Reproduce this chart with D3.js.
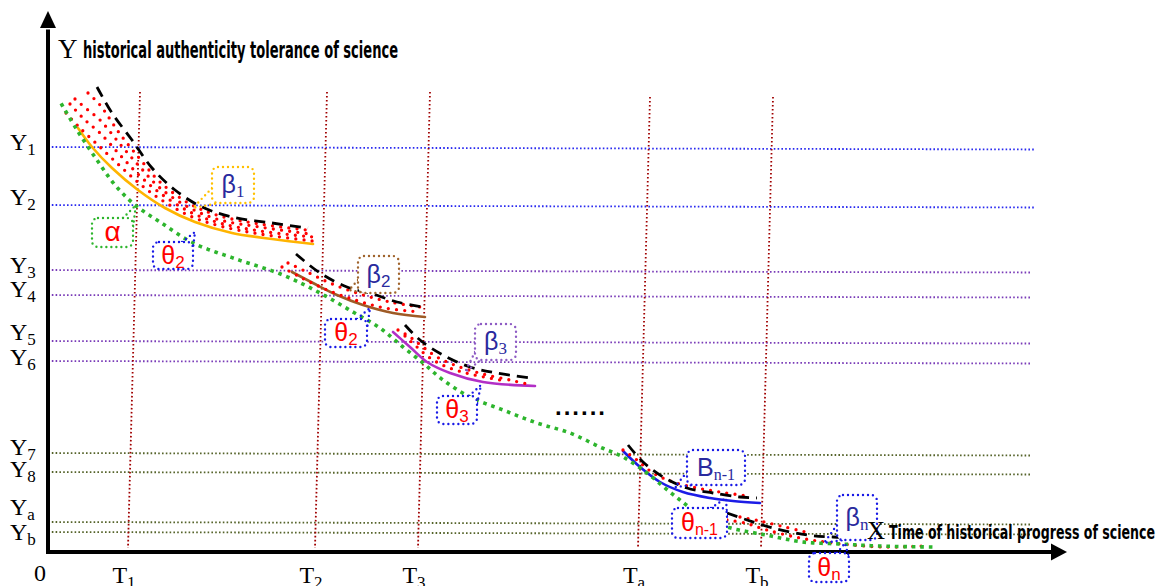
<!DOCTYPE html>
<html><head><meta charset="utf-8">
<script src="https://cdn.jsdelivr.net/npm/d3@7"></script>
<style>body{margin:0;background:#fff}svg{display:block}</style>
</head><body>
<svg id="c" width="1164" height="586"></svg>
<script>
// ---------------- data (abstract units: time 0..100, tolerance 0..100) ----------------
const yTickNames  = ["1","2","3","4","5","6","7","8","a","b"];
const yTickValues = [81, 69.4, 56.4, 51.4, 42.2, 38.2, 19.8, 16, 6, 4];
const yLabelAt    = [80.4, 69.4, 55.8, 51, 42.4, 37.4, 19.4, 15, 7.4, 2.4];
const tTickNames  = ["1","2","3","a","b"];
const tTickValues = [8, 26.7, 37, 59, 71.3];
const tTopValues  = [92, 92, 92, 91, 91];

// green dotted general trend (alpha)
const alphaCurve = [[1.4,89.4],[2.9,84.4],[4.9,78.4],[6.7,73.4],[8.7,69.4],[11.2,66],[14.5,61.8],[18.5,58.8],[23.5,55.4],[27.2,51.8],[30.5,48],[33.2,44.8],[35.5,41],[37.5,37.8],[39.5,34.4],[42.2,31],[45.5,28.4],[48.9,25.8],[52.2,23.8],[55.2,21],[57.5,19],[59.9,15.8],[61.7,12.8],[63.2,10.4],[65.5,7],[67.9,5],[71.8,3.4],[75.5,2],[79.3,1.6],[83,1.2],[88.6,1]];

// segment 1 (beta1)
const beta1Solid = [[3,84.8],[4.4,81],[6.4,76.8],[9,72.4],[11.7,68.8],[14.7,66],[18.4,63.8],[22.4,62.6],[26.5,61.6]];
const beta1Upper = [[4.9,93],[6.4,87.8],[8.4,82.4],[10.4,76.8],[12.7,72.4],[15.4,69],[18.4,67],[22.4,65.8],[26,64.8]];
const beta1RedA = [[4,91.8],[5.2,89.4],[7.2,83.6],[9.2,78.6],[11.2,74],[14.2,69.6],[17.2,67.2],[21.2,65.6],[25.9,64.4]];
const beta1RedB = [[2.7,90.6],[4,88.4],[5.2,86.4],[7.2,81.6],[9.2,77],[11.2,72.8],[14.2,68.8],[17.2,66.4],[21.2,65],[26.2,63.6]];
const beta1RedC = [[2.2,89.6],[3.7,86.4],[5.2,83.8],[7.2,79.4],[9.2,75.2],[11.2,71.8],[14.2,68],[17.2,65.8],[21.2,64.2],[26.5,63]];
const beta1RedD = [[1.8,87.8],[3.2,84.8],[5.2,81],[7.2,77.2],[9.2,73.6],[11.2,70.6],[14.2,67.2],[17.2,65.2],[21.2,63.6],[26.5,62.2]];

// segment 2 (beta2)
const beta2Solid = [[24.4,56],[26.5,53.8],[28.9,51.4],[31.5,49.4],[34.5,47.8],[37.7,47]];
const beta2Upper = [[24.8,59.6],[27.2,55.8],[29.9,53],[32.2,51.8],[34.9,50],[37.5,49]];
const beta2RedA = [[24,57.8],[25.7,56.2],[28.2,53.8],[31.2,51.6],[34.2,50],[37.2,49]];
const beta2RedB = [[23.4,57],[25.2,55],[27.7,52.6],[30.7,50.4],[33.7,48.8],[37.3,48]];

// segment 3 (beta3)
const beta3Solid = [[34.5,44],[36.2,41],[37.9,38],[40.2,35.8],[43.5,34],[48.7,33.2]];
const beta3Upper = [[35.7,45.4],[37.2,42.4],[39.5,39.4],[42.2,37],[44.9,35.8],[48.2,34.8]];
const beta3RedA = [[35,44.4],[36.2,43],[37.5,41],[38.9,39],[40.9,37.2],[43.5,35.6],[46.2,34.4],[47.9,33.6]];
const beta3RedB = [[35.7,43.2],[36.9,41],[38.2,38.8],[39.9,37],[42.2,35.6],[45.2,34.4]];

// segment n-1
const betaN1Solid = [[57.5,20.2],[59.2,17],[61.2,14],[63.5,12],[66.2,10.8],[68.5,10.2],[71.2,9.8]];
const betaN1Upper = [[58,21.4],[59.5,18],[61.5,15],[63.9,12.8],[66.5,11.8],[69.2,11],[70.9,10.8]];
const betaN1Red   = [[57.5,20.4],[58.9,18.4],[60.5,15.8],[62.5,14],[64.9,12.8],[67.2,12],[69.9,11.2]];

// segment n
const betaNUpper = [[67.9,7.8],[69.9,6.4],[72.5,4.8],[75.9,3.4],[78.5,3],[81.5,2.8]];
const betaNRedA  = [[67.9,6.4],[69.7,5.8],[71.9,4.4],[75.2,2.8],[78.5,1.8],[83.5,1],[87.5,1.2]];
const betaNRedB  = [[69.2,7],[71.2,6.2],[73.7,5],[76.2,3.8]];

// callouts: text, subscript, box [x0,yTop,x1,yBottom], pointer base points and tip
const callouts = [
  {t:"β", s:"1",   box:[16.4,77,20.6,69.8],  b1:[16.4,72.8], b2:[17.1,69.8], tip:[14.5,68.8], c:"#ffc000", tc:"#2a2a9e", sf:"serif"},
  {t:"α", s:"",    box:[4.4,66.8,8.5,61],    b1:[7.5,66.8],  b2:[8.5,65],    tip:[8.8,69.4],  c:"#2db52d", tc:"#ff0000", sf:"sans"},
  {t:"θ", s:"2",   box:[10.5,62,14.5,56.6],  b1:[13.4,62],   b2:[14.5,60.8], tip:[14.7,64],   c:"#1a1ae6", tc:"#ff0000", sf:"sans"},
  {t:"β", s:"2",   box:[31,59.2,35.1,51.8],  b1:[31,54.4],   b2:[31.7,51.8], tip:[30.1,52.4], c:"#a0642d", tc:"#2a2a9e", sf:"sans"},
  {t:"θ", s:"2",   box:[27.7,46.6,31.9,41],  b1:[30.9,46.6], b2:[31.9,44.6], tip:[32.2,48.8], c:"#1a1ae6", tc:"#ff0000", sf:"sans"},
  {t:"β", s:"3",   box:[42.7,45.6,46.8,38.4],b1:[42.7,40],   b2:[43.3,38.4], tip:[41.7,36],   c:"#8e5cc4", tc:"#2a2a9e", sf:"serif"},
  {t:"θ", s:"3",   box:[38.9,31.2,42.9,25.6],b1:[42.1,31.2], b2:[42.9,29.6], tip:[43.3,33.4], c:"#1a1ae6", tc:"#ff0000", sf:"sans"},
  {t:"B", s:"n-1", box:[63.9,20.4,69.7,13.4],b1:[63.9,16],   b2:[64.6,13.4], tip:[62.7,13],   c:"#1a1ae6", tc:"#2a2a9e", sf:"serif"},
  {t:"θ", s:"n-1", box:[62.4,8.8,67.9,2.8],  b1:[66.3,8.8],  b2:[67.9,7.2],  tip:[67.8,10.8], c:"#1a1ae6", tc:"#ff0000", sf:"sans"},
  {t:"β", s:"n",   box:[78.9,11.4,82.9,2.4], b1:[78.9,5.4],  b2:[79.5,2.4],  tip:[77.6,1.8],  c:"#1a1ae6", tc:"#2a2a9e", sf:"serif"},
  {t:"θ", s:"n",   box:[76.1,-0.2,80.1,-6],  b1:[78.9,-0.2], b2:[80.1,-1.2], tip:[79.7,1.8],  c:"#1a1ae6", tc:"#ff0000", sf:"sans"}
];

const yTitle = "historical authenticity tolerance of science";
const xTitle = "Time of historical progress of science";

// ---------------- drawing ----------------
const svg = d3.select("#c");
const x = d3.scaleLinear().domain([0,100]).range([48,1048]);
const y = d3.scaleLinear().domain([0,100]).range([552,52]);
const SERIF = "'Liberation Serif','Times New Roman',serif";
const SANS = "'Liberation Sans',Arial,sans-serif";
const NARROW = "'Liberation Sans Narrow','DejaVu Sans Condensed','Roboto Condensed',sans-serif";

svg.append("rect").attr("width",1164).attr("height",586).attr("fill","#fff");

// horizontal dotted levels
const gridColor = i => i < 2 ? "#2a2af0" : (i < 6 ? "#7a3cb8" : "#55632a");
svg.append("g").selectAll("line").data(yTickValues).join("line")
  .attr("x1", x(0)).attr("x2", (d,i)=> i<2 ? x(98.6) : x(98.2))
  .attr("y1", d=>y(d)).attr("y2", d=>y(d)+2.5)
  .attr("stroke", (d,i)=>gridColor(i)).attr("stroke-width",1.8)
  .attr("stroke-dasharray","1.6 2.2");

// vertical dotted time lines (slightly sheared as in the reference)
svg.append("g").selectAll("line").data(tTickValues).join("line")
  .attr("x1", d=>x(d)+12).attr("y1",(d,i)=>y(tTopValues[i]))
  .attr("x2", d=>x(d)).attr("y2", y(0.8))
  .attr("stroke","#a00000").attr("stroke-width",1.8).attr("stroke-dasharray","1.6 2.4");

// axes
svg.append("line").attr("x1",x(0)).attr("y1",y(-0.2)).attr("x2",x(0)).attr("y2",y(104.5))
  .attr("stroke","#000").attr("stroke-width",4);
svg.append("path").attr("d",`M${x(0)},${y(108.2)} L${x(0)-8},${y(104.8)} L${x(0)+8},${y(104.8)} Z`).attr("fill","#000");
svg.append("line").attr("x1",x(-0.2)).attr("y1",y(0)).attr("x2",x(100.6)).attr("y2",y(0))
  .attr("stroke","#000").attr("stroke-width",4);
svg.append("path").attr("d",`M${x(101.9)},${y(0)} L${x(100.3)},${y(0)-8.5} L${x(100.3)},${y(0)+8.5} Z`).attr("fill","#000");

// curves
const line = d3.line().x(d=>x(d[0])).y(d=>y(d[1])).curve(d3.curveCatmullRom.alpha(0.5));
const solid = (data,col)=> svg.append("path").attr("d",line(data)).attr("fill","none")
  .attr("stroke",col).attr("stroke-width",2.6).attr("stroke-linecap","round");
const red = data => svg.append("path").attr("d",line(data)).attr("fill","none")
  .attr("stroke","#ff0000").attr("stroke-width",3.3).attr("stroke-linecap","round").attr("stroke-dasharray","0 8.2");
const dash = data => svg.append("path").attr("d",line(data)).attr("fill","none")
  .attr("stroke","#000").attr("stroke-width",2.8).attr("stroke-dasharray","11 7");

solid(beta1Solid,"#ffb400"); solid(beta2Solid,"#9e5b26"); solid(beta3Solid,"#b22fc6"); solid(betaN1Solid,"#1c1ce6");
[beta1RedA,beta1RedB,beta1RedC,beta1RedD,beta2RedA,beta2RedB,beta3RedA,beta3RedB,betaN1Red,betaNRedA,betaNRedB].forEach(red);
[beta1Upper,beta2Upper,beta3Upper,betaN1Upper,betaNUpper].forEach(dash);
svg.append("path").attr("d",line(alphaCurve)).attr("fill","none")
  .attr("stroke","#2db52d").attr("stroke-width",3.6).attr("stroke-linecap","square").attr("stroke-dasharray","0.01 8.4");

// ellipsis
svg.append("text").attr("x",x(50.7)).attr("y",y(27.4)).attr("font-family",SANS).attr("font-weight","bold")
  .attr("font-size",24).attr("textLength",50).attr("lengthAdjust","spacing").text("......");

// callouts
const cg = svg.append("g");
callouts.forEach(c=>{
  const g = cg.append("g");
  g.append("path").attr("d",`M${x(c.b1[0])},${y(c.b1[1])} L${x(c.tip[0])},${y(c.tip[1])} L${x(c.b2[0])},${y(c.b2[1])}`)
    .attr("fill","none").attr("stroke",c.c).attr("stroke-width",2.4).attr("stroke-linecap","round").attr("stroke-dasharray","0 5");
  const bx = x(c.box[0]), by = y(c.box[1]), bw = x(c.box[2])-x(c.box[0]), bh = y(c.box[3])-y(c.box[1]);
  g.append("rect").attr("x",bx).attr("y",by).attr("width",bw).attr("height",bh).attr("rx",6)
    .attr("fill","#fff").attr("stroke",c.c).attr("stroke-width",2.4).attr("stroke-linecap","round").attr("stroke-dasharray","0 5");
  const t = g.append("text").attr("x",bx+bw/2).attr("y",by+bh/2+8).attr("text-anchor","middle")
    .attr("fill",c.tc).attr("font-family",SANS).attr("font-size",c.t==="α"?28:25);
  t.append("tspan").text(c.t);
  if (c.s) t.append("tspan").attr("dy",4).attr("font-size",c.s.length>1?16:17)
    .attr("font-family", c.sf==="serif"?SERIF:SANS).text(c.s);
});

// y tick labels
const yl = svg.append("g");
yTickNames.forEach((n,i)=>{
  const t = yl.append("text").attr("x",10).attr("y",y(yLabelAt[i])).attr("font-family",SERIF).attr("font-size",24).attr("fill","#000");
  t.append("tspan").text("Y");
  t.append("tspan").attr("dy",5).attr("font-size",17).text(n);
});
// time labels
svg.append("text").attr("x",x(-0.8)).attr("y",581).attr("text-anchor","middle").attr("font-family",SERIF).attr("font-size",24).text("0");
tTickNames.forEach((n,i)=>{
  const t = svg.append("text").attr("x",x(tTickValues[i])-4).attr("y",583).attr("text-anchor","middle")
    .attr("font-family",SERIF).attr("font-size",24).attr("fill","#000");
  t.append("tspan").text("T");
  t.append("tspan").attr("dy",5).attr("font-size",17).text(n);
});

// axis titles
svg.append("text").attr("x",58).attr("y",58).attr("font-family",SERIF).attr("font-size",27).text("Y");
svg.append("text").attr("x",83).attr("y",58).attr("font-family",NARROW).attr("font-weight","bold")
  .attr("font-size",23).attr("textLength",315).attr("lengthAdjust","spacingAndGlyphs").text(yTitle);
svg.append("text").attr("x",867).attr("y",539).attr("font-family",SERIF).attr("font-size",25).text("X");
svg.append("text").attr("x",889).attr("y",539).attr("font-family",NARROW).attr("font-weight","bold")
  .attr("font-size",20).attr("textLength",266).attr("lengthAdjust","spacingAndGlyphs").text(xTitle);
</script>
</body></html>
